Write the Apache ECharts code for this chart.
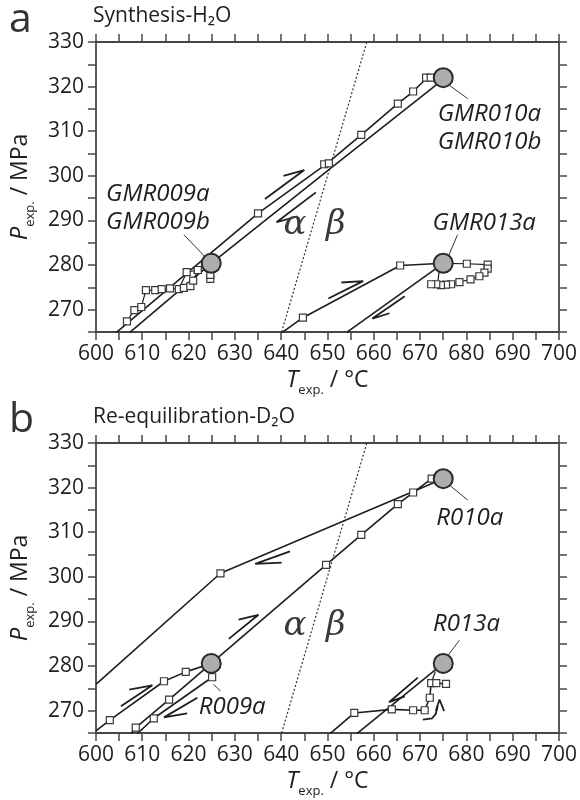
<!DOCTYPE html>
<html>
<head>
<meta charset="utf-8">
<script src="https://cdn.jsdelivr.net/npm/echarts/dist/echarts.min.js"></script>
<style>
  html, body { margin: 0; padding: 0; background: #fff; }
  #chart { width: 580px; height: 800px; }
</style>
</head>
<body>
<div id="chart"></div>
<script>
// ---- axis ranges (°C, MPa) ----
const tempRange = [600, 700];
const presRange = [265, 330];

// alpha/beta quartz transition boundary, shared by both panels
const alphaBeta = [[640.1, 265], [658.5, 330]];

// ---- panel a: synthesis in H2O ----
const a010Heat = [[604.3, 264.8], [635.0, 291.6], [649.8, 302.7], [657.3, 309.2], [665.2, 316.2], [668.5, 318.9], [671.5, 322.0], [675.0, 322.0]];
const a010Cool = [[675.0, 321.6], [650.8, 301.8], [624.9, 280.4], [607.2, 264.8]];
const a010Squares = [[635.0, 291.6], [649.3, 302.6], [650.3, 302.8], [657.3, 309.2], [665.2, 316.2], [668.5, 318.9], [671.3, 322.0], [672.3, 322.0]];
const a009Path = [[606.7, 267.4], [608.3, 269.9], [609.8, 270.6], [610.8, 274.4], [612.8, 274.4], [614.2, 274.6], [616.0, 274.8], [617.9, 274.6], [619.0, 274.9], [620.4, 275.3], [621.0, 276.5], [622.0, 278.9]];
const a009Side = [[617.9, 274.6], [619.6, 278.4], [622.0, 278.9], [624.9, 280.4]];
const a009Drop = [[624.7, 276.9], [624.7, 277.8], [624.9, 280.4]];
const a013Heat = [[640.1, 264.8], [644.7, 268.2], [665.7, 279.9], [675.0, 280.4]];
const a013Loop = [[675.0, 280.4], [680.1, 280.3], [684.6, 280.1], [684.6, 279.2], [683.9, 278.3], [682.8, 277.5], [680.9, 276.8], [678.5, 276.2], [676.7, 275.7], [675.6, 275.6], [674.5, 275.5], [673.5, 275.7], [672.4, 275.7]];
const a013Stem = [[673.8, 275.7], [674.3, 280.4]];
const a013Cool = [[675.0, 280.4], [654.0, 264.8]];
const a013Squares = [[644.7, 268.2], [665.7, 279.9]];
const aEnds = [[624.9, 280.4], [675.0, 322.0], [675.0, 280.4]];
// half arrows: tail, tip, barb end
const aArrows = [
  [[636.5, 294.8], [645.0, 301.3], [640.5, 300.0]],
  [[647.5, 296.3], [639.0, 289.6], [643.5, 290.9]],
  [[650.2, 272.5], [657.7, 276.4], [653.0, 276.1]],
  [[666.7, 273.0], [659.7, 268.0], [663.4, 269.2]]
];
const aNotes = [
  { text: 'GMR009a\nGMR009b', at: [602.2, 292.8] },
  { text: 'GMR010a\nGMR010b', at: [673.8, 310.7] },
  { text: 'GMR013a', at: [672.7, 289.4] }
];
const aLeaders = [
  [[619.0, 286.8], [623.7, 281.7]],
  [[676.3, 320.3], [680.3, 317.3]],
  [[678.1, 286.8], [676.0, 281.7]]
];

// ---- panel b: re-equilibration in D2O ----
const b010Cool = [[675.0, 322.0], [626.9, 300.8], [600.0, 275.9]];
const bHeat = [[607.5, 264.8], [608.6, 266.2], [615.8, 272.5], [624.9, 280.6], [649.7, 302.7], [657.3, 309.4], [665.2, 316.3], [668.5, 318.9], [672.5, 322.0], [675.0, 322.0]];
const b009Steps = [[600.0, 265.5], [603.0, 267.9], [614.7, 276.6], [619.4, 278.7], [624.9, 280.6]];
const b009Cool = [[608.9, 264.8], [612.5, 268.3], [625.1, 277.5], [625.0, 279.5]];
const bSquares = [[626.9, 300.8], [608.6, 266.2], [615.8, 272.5], [649.7, 302.7], [657.3, 309.4], [665.2, 316.3], [668.5, 318.9], [672.5, 322.0], [603.0, 267.9], [614.7, 276.6], [619.4, 278.7], [612.5, 268.3], [625.1, 277.5]];
const b013Cool = [[656.3, 264.8], [675.0, 280.6]];
const b013Steps = [[650.5, 264.8], [655.8, 269.5], [663.9, 270.3], [668.5, 270.1], [671.0, 270.1], [672.1, 272.9], [672.4, 276.2], [673.5, 276.2], [675.6, 276.0]];
const b013Link = [[672.4, 276.2], [673.3, 278.8]];
const b013Hook = [[670.6, 268.0], [672.6, 268.3], [673.4, 269.3], [673.8, 271.0]];
const b013HookHead = [[673.4, 270.0], [674.2, 272.5], [675.2, 269.9]];
const bEnds = [[624.9, 280.6], [675.0, 322.0], [675.0, 280.6]];
const bArrows = [
  [[641.9, 305.7], [634.4, 302.9], [640.1, 303.2]],
  [[605.4, 271.0], [612.2, 275.7], [607.2, 274.7]],
  [[628.7, 286.1], [635.1, 291.5], [630.8, 290.4]],
  [[621.9, 272.9], [614.7, 268.5], [619.7, 269.4]],
  [[669.5, 277.4], [663.3, 271.9], [666.7, 273.2]]
];
const bNotes = [
  { text: 'R010a', at: [673.5, 313.1] },
  { text: 'R013a', at: [672.8, 289.5] },
  { text: 'R009a', at: [622.2, 270.8] }
];
const bLeaders = [
  [[676.3, 320.6], [680.3, 317.2]],
  [[678.5, 285.8], [675.6, 281.8]],
  [[625.4, 275.9], [626.9, 274.4]]
];

// phase labels
const phaseLabels = [{ text: 'α', at: [643.0, 289.0] }, { text: 'β', at: [651.8, 289.0] }];

// ---- styling ----
const FONT = "'Open Sans', 'Noto Sans', sans-serif";
const INK = '#1e1e1e';
const AXIS = '#474747';

const nameRich = {
  i: { fontFamily: FONT, fontSize: 24, fontStyle: 'italic', color: INK, lineHeight: 34 },
  s: { fontFamily: FONT, fontSize: 13, color: INK, lineHeight: 14, verticalAlign: 'bottom' },
  n: { fontFamily: FONT, fontSize: 23, color: INK, lineHeight: 34 }
};

const every10 = v => (Math.round(v) % 10 === 0 ? String(v) : '');

function axisBase(g, range) {
  return {
    gridIndex: g, type: 'value', min: range[0], max: range[1], interval: 5,
    splitLine: { show: false },
    axisLine: { onZero: false, lineStyle: { color: AXIS, width: 1.8 } },
    axisTick: { length: 8, lineStyle: { color: AXIS, width: 1.5 } }
  };
}

function xAxesFor(g) {
  return [
    Object.assign(axisBase(g, tempRange), {
      position: 'bottom',
      axisLabel: { formatter: every10, margin: 12, fontSize: 21, color: INK, fontFamily: FONT },
      name: '{i|T}{s|exp.}{n| / °C}', nameLocation: 'middle', nameGap: 31,
      nameTextStyle: { rich: nameRich }
    }),
    Object.assign(axisBase(g, tempRange), { position: 'top', axisLabel: { show: false } })
  ];
}

function yAxesFor(g) {
  return [
    Object.assign(axisBase(g, presRange), {
      position: 'left',
      axisLabel: { formatter: every10, margin: 12, fontSize: 21, color: INK, fontFamily: FONT },
      name: '{i|P}{s|exp.}{n| / MPa}', nameLocation: 'middle', nameGap: 56, nameRotate: 90,
      nameTextStyle: { rich: nameRich }
    }),
    Object.assign(axisBase(g, presRange), { position: 'right', axisLabel: { show: false } })
  ];
}

function onGrid(g, s) {
  return Object.assign({ xAxisIndex: g * 2, yAxisIndex: g * 2, animation: false, silent: true }, s);
}

function line(g, data, width, extra) {
  return onGrid(g, Object.assign({
    type: 'line', data: data, showSymbol: false, symbol: 'none', z: 3,
    lineStyle: { color: INK, width: width || 1.6 }
  }, extra || {}));
}

function squares(g, data) {
  return onGrid(g, {
    type: 'scatter', data: data, symbol: 'rect', symbolSize: 7, z: 6,
    itemStyle: { color: '#fff', borderColor: '#3a3a3a', borderWidth: 1.2, opacity: 1 }
  });
}

function endpoints(g, data) {
  return onGrid(g, {
    type: 'scatter', data: data, symbol: 'circle', symbolSize: 19, z: 8,
    itemStyle: { color: '#adadad', borderColor: '#2a2a2a', borderWidth: 2, opacity: 1 }
  });
}

function notes(g, list, extraLabel) {
  return onGrid(g, {
    type: 'scatter', symbolSize: 0, z: 9,
    itemStyle: { opacity: 1 },
    data: list.map(n => ({ value: n.at, label: { formatter: n.text } })),
    label: Object.assign({
      show: true, position: 'right', distance: 0, color: INK, opacity: 1,
      fontFamily: FONT, fontStyle: 'italic', fontSize: 24, lineHeight: 28
    }, extraLabel || {})
  });
}

function panelSeries(g, parts) {
  const out = [];
  out.push(line(g, alphaBeta, 1.2, { lineStyle: { color: '#333', width: 1.2, type: [2, 2] }, z: 2 }));
  parts.lines.forEach(d => out.push(line(g, d)));
  parts.thin.forEach(d => out.push(line(g, d, 1.2)));
  parts.arrows.forEach(d => out.push(line(g, d, 1.8)));
  parts.leaders.forEach(d => out.push(line(g, d, 1.0, { lineStyle: { color: '#333', width: 1.0 } })));
  out.push(squares(g, parts.squares));
  out.push(endpoints(g, parts.ends));
  out.push(notes(g, parts.notes));
  out.push(notes(g, phaseLabels, {
    position: 'inside', fontFamily: "'DejaVu Serif', serif", fontSize: 34, color: '#3a3a3a'
  }));
  return out;
}

const series = [].concat(
  panelSeries(0, {
    lines: [a010Heat, a010Cool, a013Heat, a013Cool],
    thin: [a009Path, a009Side, a009Drop, a013Loop, a013Stem],
    arrows: aArrows,
    leaders: aLeaders,
    squares: [].concat(a010Squares, a009Path, a009Side.slice(1, 3), a009Drop.slice(0, 2), a013Squares, a013Loop.slice(1)),
    ends: aEnds,
    notes: aNotes
  }),
  panelSeries(1, {
    lines: [b010Cool, bHeat, b009Steps, b009Cool, b013Cool, b013Steps],
    thin: [b013Link],
    arrows: bArrows.concat([b013Hook, b013HookHead]),
    leaders: bLeaders,
    squares: bSquares.concat(b013Steps.slice(1)),
    ends: bEnds,
    notes: bNotes
  })
);

const chart = echarts.init(document.getElementById('chart'), null, { renderer: 'canvas' });
chart.setOption({
  animation: false,
  backgroundColor: '#fff',
  grid: [
    { left: 95, top: 42, width: 465, height: 290 },
    { left: 95, top: 443, width: 465, height: 290 }
  ],
  xAxis: xAxesFor(0).concat(xAxesFor(1)),
  yAxis: yAxesFor(0).concat(yAxesFor(1)),
  graphic: [
    { type: 'text', left: 9, top: 0, style: { text: 'a', font: "41px " + FONT, fill: '#333' } },
    { type: 'text', left: 93, top: 6, style: { text: 'Synthesis-H₂O', font: "21px " + FONT, fill: INK } },
    { type: 'text', left: 9, top: 400, style: { text: 'b', font: "41px " + FONT, fill: '#333' } },
    { type: 'text', left: 93, top: 407, style: { text: 'Re-equilibration-D₂O', font: "21px " + FONT, fill: INK } }
  ],
  series: series
});
</script>
</body>
</html>
